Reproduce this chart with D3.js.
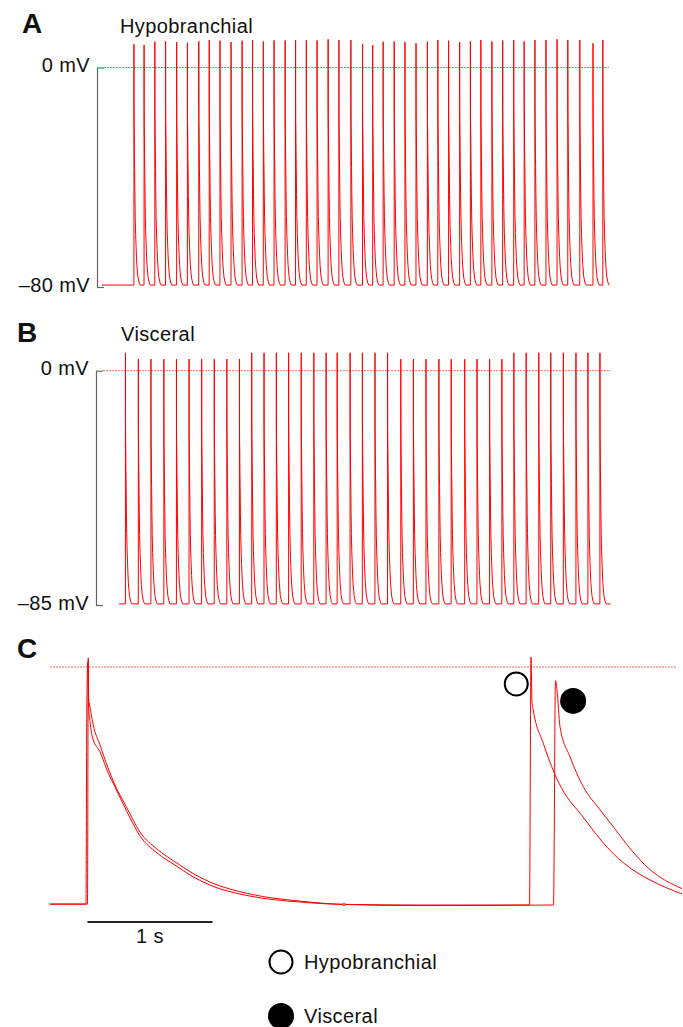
<!DOCTYPE html>
<html>
<head>
<meta charset="utf-8">
<script src="https://cdn.jsdelivr.net/npm/d3@7"></script>
<style>
  body { margin: 0; background: #fff; }
  svg text { font-family: "Liberation Sans", Arial, sans-serif; fill: #111; }
  .panel-letter { font-weight: bold; font-size: 28px; }
  .label { font-size: 20px; letter-spacing: 0.4px; }
  .axis text { font-size: 20px; letter-spacing: 0.4px; fill: #111; }
  .axis line, .axis path { stroke: #666; stroke-width: 1.2; }
</style>
</head>
<body>
<script>
// Panel A - hypobranchial spike train (s, mV)
const aSpikeTimes = [10.4, 13.7, 17.2, 20.7, 24.3, 27.8, 31.5, 34.9, 38.4, 42.0,
  45.6, 49.0, 52.5, 56.0, 59.6, 63.0, 66.5, 70.0, 73.6, 77.1,
  81.0, 84.8, 88.1, 91.5, 95.1, 98.6, 102.2, 105.9, 109.3, 112.8,
  116.4, 119.9, 123.3, 126.9, 130.4, 134.0, 137.4, 140.9, 144.5, 148.1,
  151.6, 155.5, 159.8, 163.0];
const aSpikePeaks = [8.5, 8.2, 9.4, 9.5, 9.3, 9.0, 9.5, 10.0, 9.8, 9.3,
  9.8, 10.0, 9.5, 9.9, 9.9, 9.9, 9.9, 9.9, 10.3, 10.0,
  10.0, 8.5, 8.2, 9.4, 9.5, 9.3, 8.8, 9.4, 10.0, 9.8,
  9.2, 9.5, 10.0, 9.5, 9.8, 10.0, 9.5, 10.0, 10.0, 10.3,
  10.0, 10.0, 8.8, 10.0];
const aBaseline = -79.3;
const aDuration = 165;
const aTicks = [-80, 0];

// Panel B - visceral spike train (s, mV)
const bSpikeTimes = [2.1, 6.3, 10.4, 14.6, 18.7, 22.8, 26.9, 31.0, 35.1, 39.2,
  43.2, 47.2, 51.2, 55.2, 59.3, 63.4, 67.4, 71.0, 75.2, 79.2,
  83.3, 87.4, 91.7, 95.8, 99.9, 104.1, 108.1, 112.5, 116.5, 120.6,
  124.6, 128.5, 132.5, 136.6, 140.5, 144.6, 148.7, 152.6, 156.5];
const bSpikePeaks = [6.5, 4.2, 4.2, 4.2, 4.2, 4.2, 4.2, 4.2, 4.2, 4.2,
  6.5, 6.5, 6.5, 6.5, 6.5, 6.5, 6.5, 6.5, 6.5, 6.5,
  6.5, 6.5, 4.2, 4.2, 4.2, 4.2, 4.2, 4.2, 4.2, 4.2,
  4.2, 6.5, 6.5, 6.5, 6.5, 6.5, 6.5, 6.5, 6.5];
const bBaseline = -84.6;
const bDuration = 160;
const bTicks = [-85, 0];

// Action potential shape: [s after peak, fraction of amplitude]
const spikeTemplate = [[-0.03, 0], [-0.012, 0.04], [0, 1], [0.002, 0.81], [0.014, 0.74],
  [0.036, 0.67], [0.094, 0.62], [0.16, 0.53], [0.214, 0.48], [0.31, 0.37],
  [0.414, 0.28], [0.55, 0.21], [0.694, 0.16], [0.83, 0.115], [0.974, 0.08],
  [1.294, 0.033], [1.694, 0.009], [2.046, 0]];

// Panel C - superimposed single action potentials: [s, mV]
const cHypo = [[0, -79.7], [0.3, -79.7], [0.306, 3.1], [0.308, -12.8], [0.32, -18.4],
  [0.342, -23.9], [0.4, -28.5], [0.466, -35.7], [0.52, -40.3], [0.616, -48.7],
  [0.72, -56.8], [0.856, -62.5], [1.0, -66.6], [1.136, -70.3], [1.28, -73.3],
  [1.6, -77.0], [2.0, -79.0], [2.352, -79.8], [2.96, -80.0], [3.836, -80.0],
  [3.848, 3.3], [3.856, -11.8], [3.866, -14.5], [3.946, -25.6], [4.054, -37.5],
  [4.091, -40.6], [4.264, -50.4], [4.4, -57.8], [4.512, -63.0], [4.65, -67.8],
  [4.792, -71.4], [5.056, -76.3]];
const cVisceral = [[0, -79.7], [0.288, -79.7], [0.294, -16.7], [0.302, 1.7], [0.31, -11.1],
  [0.314, -12.1], [0.326, -15.0], [0.346, -19.5], [0.4, -26.2], [0.464, -33.9],
  [0.52, -39.7], [0.616, -47.4], [0.72, -55.5], [0.856, -61.2], [1.0, -65.5],
  [1.136, -69.2], [1.28, -72.3], [1.6, -76.3], [2.0, -78.7], [2.352, -79.8],
  [2.96, -80.2], [4.028, -80.0], [4.044, -4.6], [4.056, -7.7], [4.08, -20.1],
  [4.16, -30.2], [4.266, -40.2], [4.4, -48.0], [4.512, -54.0], [4.65, -61.5],
  [4.792, -67.8], [5.056, -74.5]];
const cPeakMarks = [{name: 'Hypobranchial', t: 3.73, v: -5.7}, {name: 'Visceral', t: 4.185, v: -11.4}];
const cCursor = [[2.352, -79.8]];
const scaleBarSec = 1;
const legendItems = ['Hypobranchial', 'Visceral'];

const width = 683, height = 1027;
const svg = d3.select('body').append('svg')
    .attr('width', width)
    .attr('height', height);

svg.append('rect').attr('width', width).attr('height', height).attr('fill', '#fff');

// Build a continuous trace from spike times and template
function buildTrace(times, peaks, base, tEnd) {
  const pts = [[0, base]];
  times.forEach((t0, i) => {
    spikeTemplate.forEach(([dt, f]) => pts.push([t0 + dt, base + f * (peaks[i] - base)]));
  });
  pts.push([tEnd, base]);
  return pts;
}

function fmtMV(d) {
  return d === 0 ? '0 mV' : '\u2013' + Math.abs(d) + ' mV';
}

function drawTrain(opts) {
  const x = d3.scaleLinear().domain([0, opts.duration]).range(opts.xRange);
  const y = d3.scaleLinear().domain([opts.ticks[0], 0]).range(opts.yRange);

  // axis with inward ticks
  svg.append('g')
     .attr('class', 'axis')
     .attr('transform', `translate(${opts.axisX},0)`)
     .call(d3.axisLeft(y)
             .tickValues(opts.ticks)
             .tickSizeInner(-7)
             .tickSizeOuter(0)
             .tickPadding(7)
             .tickFormat(fmtMV))
     .call(g => g.selectAll('text').attr('dy', '0.2em'));

  // 0 mV reference
  svg.append('line')
     .attr('x1', opts.axisX + 7).attr('x2', x(opts.duration))
     .attr('y1', y(0)).attr('y2', y(0))
     .attr('stroke', '#f05050').attr('stroke-opacity', 0.85)
     .attr('stroke-width', 1).attr('stroke-dasharray', '2 1');

  const line = d3.line().x(d => x(d[0])).y(d => y(d[1]));
  svg.append('path')
     .datum(buildTrace(opts.times, opts.peaks, opts.base, opts.duration))
     .attr('fill', 'none')
     .attr('stroke', '#ff0000')
     .attr('stroke-width', 1)
     .attr('stroke-linejoin', 'round')
     .attr('d', line);

  svg.append('text').attr('class', 'panel-letter')
     .attr('x', opts.letterPos[0]).attr('y', opts.letterPos[1]).text(opts.letter);
  svg.append('text').attr('class', 'label')
     .attr('x', opts.titlePos[0]).attr('y', opts.titlePos[1]).text(opts.title);
}

drawTrain({
  letter: 'A', letterPos: [22, 33], title: 'Hypobranchial', titlePos: [120, 33],
  times: aSpikeTimes, peaks: aSpikePeaks, base: aBaseline, duration: aDuration,
  ticks: aTicks, xRange: [102, 609], yRange: [287, 67.5], axisX: 97
});

drawTrain({
  letter: 'B', letterPos: [17, 342], title: 'Visceral', titlePos: [121, 341],
  times: bSpikeTimes, peaks: bSpikePeaks, base: bBaseline, duration: bDuration,
  ticks: bTicks, xRange: [119, 610.7], yRange: [605, 370.7], axisX: 96
});

// Panel C
const xC = d3.scaleLinear().domain([0, 5.04]).range([50, 680]);
const yC = d3.scaleLinear().domain([-80, 0]).range([905, 667]);

svg.append('text').attr('class', 'panel-letter').attr('x', 17).attr('y', 658).text('C');

svg.append('line')
   .attr('x1', xC(0)).attr('x2', 677)
   .attr('y1', yC(0)).attr('y2', yC(0))
   .attr('stroke', '#f05050').attr('stroke-opacity', 0.85)
   .attr('stroke-width', 1).attr('stroke-dasharray', '2 1');

const lineC = d3.line().curve(d3.curveMonotoneX).x(d => xC(d[0])).y(d => yC(d[1]));
[cVisceral, cHypo].forEach(tr => {
  svg.append('path')
     .datum(tr)
     .attr('fill', 'none')
     .attr('stroke', '#ff0000')
     .attr('stroke-width', 1)
     .attr('stroke-linejoin', 'round')
     .attr('d', lineC);
});

svg.selectAll('.cursor')
   .data(cCursor)
   .join('path')
   .attr('class', 'cursor')
   .attr('transform', d => `translate(${xC(d[0])},${yC(d[1])}) rotate(45)`)
   .attr('d', d3.symbol(d3.symbolCross, 10))
   .attr('fill', '#888');

// peak markers
svg.selectAll('.peak-mark')
   .data(cPeakMarks)
   .join('circle')
   .attr('class', 'peak-mark')
   .attr('cx', d => xC(d.t))
   .attr('cy', d => yC(d.v))
   .attr('r', d => d.name === 'Hypobranchial' ? 11.5 : 13)
   .attr('fill', d => d.name === 'Hypobranchial' ? '#fff' : '#000')
   .attr('stroke', '#000')
   .attr('stroke-width', d => d.name === 'Hypobranchial' ? 2 : 0);

// 1 s scale bar
const barY = 922;
svg.append('line')
   .attr('x1', xC(0.3)).attr('x2', xC(0.3 + scaleBarSec))
   .attr('y1', barY).attr('y2', barY)
   .attr('stroke', '#222').attr('stroke-width', 2);
svg.append('text').attr('class', 'label')
   .attr('x', xC(0.3 + scaleBarSec / 2)).attr('y', 943)
   .attr('text-anchor', 'middle')
   .text(scaleBarSec + ' s');

// legend
const legend = svg.append('g').attr('transform', 'translate(281,962)');
legendItems.forEach((name, i) => {
  const g = legend.append('g').attr('transform', `translate(0,${i * 54})`);
  g.append('circle')
   .attr('r', i === 0 ? 11.5 : 13)
   .attr('fill', i === 0 ? '#fff' : '#000')
   .attr('stroke', '#000')
   .attr('stroke-width', i === 0 ? 2 : 0);
  g.append('text').attr('class', 'label')
   .attr('x', 23).attr('y', 7).text(name);
});
</script>
</body>
</html>
